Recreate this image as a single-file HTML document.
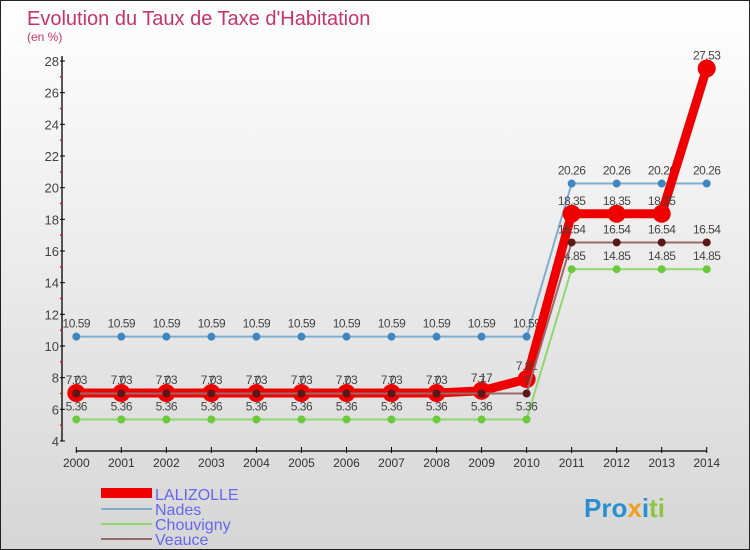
<!DOCTYPE html>
<html><head><meta charset="utf-8"><style>
html,body{margin:0;padding:0}
body{width:750px;height:550px;overflow:hidden;font-family:"Liberation Sans",sans-serif}
#wrap{position:relative;width:748px;height:548px;border:1px solid #222;background:linear-gradient(#ffffff,#d6d6d6)}
</style></head><body>
<div id="wrap">
<svg id="chart" width="748" height="548" style="position:absolute;left:0;top:0">
<text x="26" y="24" font-size="20" fill="#c8336a">Evolution du Taux de Taxe d'Habitation</text>
<text x="26" y="40" font-size="12" fill="#c8336a">(en %)</text>
<g id="axes"></g><g id="series"></g>
<g>
<rect x="100" y="487" width="51" height="10" fill="#e00"/>
<text x="154" y="499" font-size="16" fill="#6666ee">LALIZOLLE</text>
<line x1="100" y1="508" x2="151" y2="508" stroke="#7fafcf" stroke-width="2"/>
<text x="154" y="514" font-size="16" fill="#6666ee">Nades</text>
<line x1="100" y1="523" x2="151" y2="523" stroke="#8fd86f" stroke-width="2"/>
<text x="154" y="529" font-size="16" fill="#6666ee">Chouvigny</text>
<line x1="100" y1="538" x2="151" y2="538" stroke="#9a6a6a" stroke-width="2"/>
<text x="154" y="544" font-size="16" fill="#6666ee">Veauce</text>
</g>
<text x="583" y="516" font-size="26" font-weight="bold"><tspan fill="#2a8fd0">Pro</tspan><tspan fill="#f0a020">x</tspan><tspan fill="#2a8fd0">i</tspan><tspan fill="#8cc63f">ti</tspan></text>
</svg>
</div>
<script>
const years=[2000,2001,2002,2003,2004,2005,2006,2007,2008,2009,2010,2011,2012,2013,2014];
const lalizolle=[7.03,7.03,7.03,7.03,7.03,7.03,7.03,7.03,7.03,7.17,7.91,18.35,18.35,18.35,27.53];
const nades=[10.59,10.59,10.59,10.59,10.59,10.59,10.59,10.59,10.59,10.59,10.59,20.26,20.26,20.26,20.26];
const chouvigny=[5.36,5.36,5.36,5.36,5.36,5.36,5.36,5.36,5.36,5.36,5.36,14.85,14.85,14.85,14.85];
const veauce=[7,7,7,7,7,7,7,7,7,7,7,16.54,16.54,16.54,16.54];
const yTicks=[4,6,8,10,12,14,16,18,20,22,24,26,28];
const NS="http://www.w3.org/2000/svg";
const X=i=>75.3+i*45.03;
const Y=v=>440-(v-4)*(380/24);
function mk(tag,attrs,parent){const e=document.createElementNS(NS,tag);for(const k in attrs)e.setAttribute(k,attrs[k]);parent.appendChild(e);return e;}
const axes=document.getElementById('axes'),ser=document.getElementById('series');
let a=mk('line',{x1:61,y1:55,x2:61,y2:440,stroke:'#000','stroke-width':1.3},axes);


for(let v=5;v<28;v+=2){let t=mk('line',{x1:59,y1:Y(v),x2:61,y2:Y(v),stroke:'#f00','stroke-width':1.3},axes);

}
yTicks.forEach(v=>{let t=mk('line',{x1:59,y1:Y(v),x2:64,y2:Y(v),stroke:'#000'},axes);


let l=mk('text',{x:58,y:Y(v)+5,'font-size':13,fill:'#444','text-anchor':'end'},axes);l.textContent=v;

});
let xa=mk('line',{x1:X(0),y1:450,x2:X(14),y2:450,stroke:'#000','stroke-width':1.3},axes);


years.forEach((y,i)=>{let t=mk('line',{x1:X(i),y1:446,x2:X(i),y2:452,stroke:'#000'},axes);


let l=mk('text',{x:X(i),y:466,'font-size':12,fill:'#333','text-anchor':'middle'},axes);l.textContent=y;

});
function series(name,vals,color,lw,dot,dotColor,labelFmt){
 const g=mk('g',{},ser);
 
 
 const p=mk('polyline',{points:vals.map((v,i)=>X(i)+','+Y(v)).join(' '),fill:'none',stroke:color,'stroke-width':lw,'stroke-linejoin':'round'},g);
 
 
 vals.forEach((v,i)=>{const c=mk('circle',{cx:X(i),cy:Y(v),r:dot,fill:dotColor},g);
 
 
 const t=mk('text',{x:X(i),y:Y(v)-9,'font-size':12,fill:'#444','text-anchor':'middle','letter-spacing':'-0.5'},g);
 t.textContent=labelFmt(v);
 
 });
}
const f=v=>String(v);
series('chouvigny',chouvigny,'#8fd86f',2,4,'#6cc83c',f);
series('nades',nades,'#7fafcf',2,4,'#3f86c0',f);
series('lalizolle',lalizolle,'#e00',9,9,'#e00',f);
series('veauce',veauce,'#9a6a6a',2,4,'#5a1818',f);
</script>
</body></html>
